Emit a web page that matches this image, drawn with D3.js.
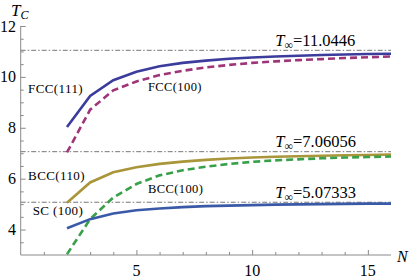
<!DOCTYPE html>
<html>
<head>
<meta charset="utf-8">
<script src="https://cdn.jsdelivr.net/npm/d3@7"></script>
<style>
  body { margin: 0; background: #fff; }
</style>
</head>
<body>
<script>
//Layer sizes.
var N = [2, 3, 4, 5, 6, 7, 8, 9, 10, 11, 12, 13, 14, 15, 16];

//Critical temperature per layer count.
var fcc111 = [8.03, 9.25, 9.87, 10.2, 10.42, 10.55, 10.64, 10.71, 10.76, 10.8, 10.83, 10.86, 10.88, 10.9, 10.91];
var fcc100 = [7.03, 8.71, 9.47, 9.82, 10.07, 10.24, 10.37, 10.47, 10.55, 10.61, 10.66, 10.7, 10.74, 10.77, 10.8];
var bcc110 = [5.05, 5.85, 6.25, 6.45, 6.58, 6.67, 6.74, 6.79, 6.83, 6.86, 6.88, 6.9, 6.92, 6.93, 6.95];
var bcc100 = [3.03, 4.41, 5.26, 5.79, 6.13, 6.33, 6.47, 6.58, 6.66, 6.72, 6.76, 6.8, 6.83, 6.85, 6.87];
var sc100 = [4.05, 4.41, 4.63, 4.76, 4.83, 4.88, 4.92, 4.94, 4.96, 4.98, 4.99, 5.0, 5.01, 5.02, 5.02];

//Bulk limits (the dash-dot lines).
var tInf = [11.0446, 7.06056, 5.07333];
var tInfText = ["11.0446", "7.06056", "5.07333"];

//Tick values.
var xMajor = [5, 10, 15];
var yMajor = [4, 6, 8, 10, 12];

//Series names and label anchors (in data units).
var names = ["FCC(111)", "FCC(100)", "BCC(110)", "BCC(100)", "SC (100)"];
var labelN = [0.32, 5.5, 0.32, 5.5, 0.52];
var labelT = [9.37, 9.45, 5.95, 5.44, 4.57];
var labelSize = [13, 12.5, 13, 12.5, 13];

//Line styles.
var colors = ["#3c3c9c", "#9e3579", "#a9953a", "#38a048", "#3a5aa8"];
var dashes = [null, "7,4", null, "7,4", null];

var serif = "'Liberation Serif', 'Times New Roman', serif";

var width = 416, height = 278;
var svg = d3.select("body").append("svg").attr("width", width).attr("height", height);

//Scales.
var x = d3.scaleLinear().domain([0, 16]).range([20.7, 391]);
var y = d3.scaleLinear().domain([3, 12]).range([255, 26]);

var axisColor = "#8a8a8a";

//Dash-dot reference lines.
svg.selectAll(".ref").data(tInf).enter().append("line")
   .attr("x1", x(0)).attr("x2", x(16))
   .attr("y1", function(d) { return y(d); })
   .attr("y2", function(d) { return y(d); })
   .attr("stroke", "#777").attr("stroke-width", 1)
   .attr("stroke-dasharray", "5,2,1.5,2");

//Series lines.
var allSeries = [fcc111, fcc100, bcc110, bcc100, sc100];
var line = d3.line().x(function(d, i) { return x(N[i]); }).y(function(d) { return y(d); });

allSeries.forEach(function(s, i) {
  svg.append("path")
     .attr("d", line(s))
     .attr("fill", "none")
     .attr("stroke", colors[i])
     .attr("stroke-width", 2.6)
     .attr("stroke-dasharray", dashes[i]);
});

//Axes, Mathematica style: ticks point inward.
var xAxis = d3.axisTop(x).tickValues(d3.range(1, 16)).tickSize(3).tickFormat("");
var gx = svg.append("g").attr("transform", "translate(0," + y(3) + ")").call(xAxis);
gx.selectAll(".tick line").filter(function(d) { return xMajor.indexOf(d) >= 0; }).attr("y2", -5);

var yAxis = d3.axisRight(y).tickValues(d3.range(3.5, 12.01, 0.5)).tickSize(3).tickFormat("");
var gy = svg.append("g").attr("transform", "translate(" + x(0) + ",0)").call(yAxis);
gy.selectAll(".tick line").filter(function(d) { return yMajor.indexOf(d) >= 0; }).attr("x2", 5);

[gx, gy].forEach(function(g) {
  g.select(".domain").attr("stroke", axisColor).attr("stroke-width", 1);
  g.selectAll(".tick line").attr("stroke", axisColor);
});
gx.select(".domain").attr("d", "M" + x(0) + ",0H" + x(16));
gy.select(".domain").attr("d", "M0," + y(3) + "V" + y(12));

//Tick labels.
svg.selectAll(".xl").data(xMajor).enter().append("text")
   .attr("x", function(d) { return x(d); }).attr("y", 276)
   .attr("text-anchor", "middle").attr("font-size", 16).attr("font-family", serif)
   .text(function(d) { return d; });

svg.selectAll(".yl").data(yMajor).enter().append("text")
   .attr("x", 16).attr("y", function(d) { return y(d) + 5.5; })
   .attr("text-anchor", "end").attr("font-size", 16).attr("font-family", serif)
   .text(function(d) { return d; });

//Axis titles.
var tc = svg.append("text").attr("x", 11).attr("y", 16).attr("font-size", 17).attr("font-family", serif);
tc.append("tspan").attr("font-style", "italic").text("T");
tc.append("tspan").attr("font-style", "italic").attr("font-size", 12).attr("dy", 3).text("C");

svg.append("text").attr("x", 397).attr("y", 262).attr("font-family", serif)
   .attr("font-size", 16).attr("font-style", "italic").text("N");

//Series labels.
names.forEach(function(n, i) {
  svg.append("text")
     .attr("x", x(labelN[i])).attr("y", y(labelT[i]))
     .attr("font-size", labelSize[i]).attr("font-family", serif)
     .attr("letter-spacing", 0.4)
     .text(n);
});

//Bulk limit labels.
tInf.forEach(function(t, i) {
  var lbl = svg.append("text").attr("x", x(11.0)).attr("y", y(t) - 4.5)
               .attr("font-size", 16.5).attr("font-family", serif);
  lbl.append("tspan").attr("font-style", "italic").text("T");
  lbl.append("tspan").attr("font-size", 12).attr("dy", 3).text("\u221E");
  lbl.append("tspan").attr("dy", -3).text("=" + tInfText[i]);
});
</script>
</body>
</html>
